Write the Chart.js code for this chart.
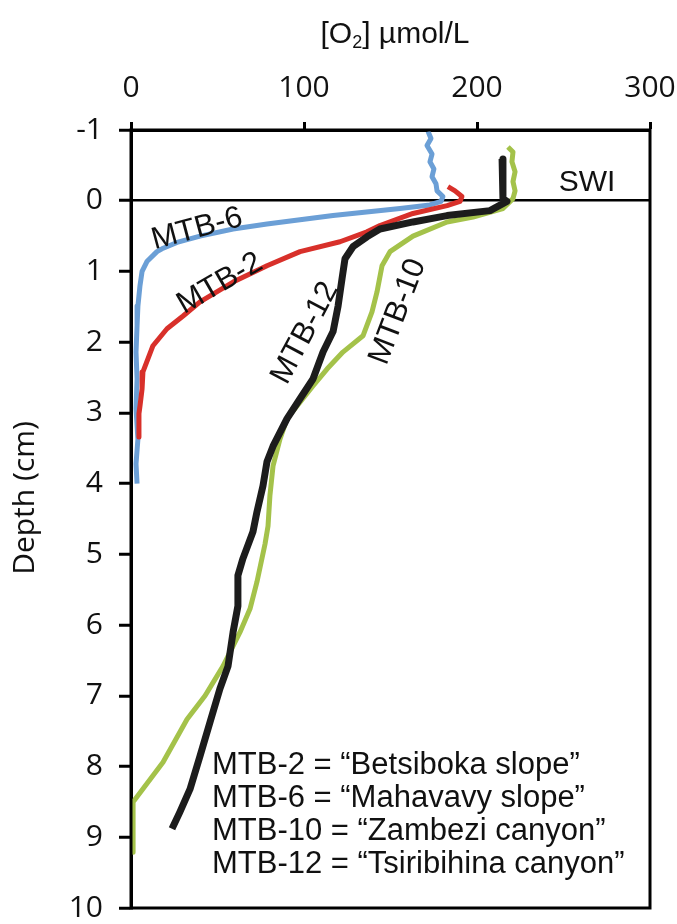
<!DOCTYPE html>
<html>
<head>
<meta charset="utf-8">
<script src="https://cdn.jsdelivr.net/npm/chart.js@4.4.1/dist/chart.umd.min.js"></script>
<style>
  html, body { margin: 0; padding: 0; background: #fff; }
  #wrap { width: 677px; height: 924px; position: relative; }
</style>
</head>
<body>
<div id="wrap"><canvas id="chart"></canvas></div>
<script>
// --- Profiles: O2 (µmol/L) against depth (cm) ---
const mtb6O2 = [171.7, 173.4, 171.1, 174.0, 172.8, 175.1, 174.0, 176.3, 176.9, 180.3, 179.2, 172.8, 155.5, 116.8, 78.6, 59.0, 39.9, 26.6, 17.9, 15.0, 9.2, 6.4, 5.2, 4.0, 3.5, 2.9, 3.5, 2.9, 4.0, 2.9, 3.5];
const mtb6Depth = [-0.98, -0.88, -0.78, -0.66, -0.55, -0.45, -0.34, -0.24, -0.14, -0.06, 0.01, 0.06, 0.11, 0.21, 0.33, 0.40, 0.50, 0.59, 0.68, 0.72, 0.86, 1.00, 1.20, 1.49, 1.77, 2.14, 2.52, 2.94, 3.37, 3.72, 4.00];

const mtb2O2 = [183.2, 187.3, 191.3, 190.2, 182.7, 163.0, 143.9, 136.4, 120.8, 97.7, 78.6, 59.0, 39.9, 30.1, 20.8, 12.7, 6.9, 6.4, 5.2, 4.6, 4.6];
const mtb2Depth = [-0.20, -0.14, -0.06, 0.01, 0.07, 0.18, 0.35, 0.44, 0.58, 0.72, 0.92, 1.15, 1.43, 1.63, 1.81, 2.05, 2.42, 2.66, 2.90, 3.01, 3.34];

const mtb10O2 = [217.9, 220.8, 220.2, 222.0, 220.8, 222.0, 220.8, 215.0, 197.7, 182.7, 163.0, 149.7, 145.1, 142.2, 139.3, 134.1, 122.5, 113.3, 105.2, 96.0, 90.2, 86.1, 82.1, 80.3, 79.2, 77.5, 72.8, 68.8, 63.0, 53.2, 42.8, 32.4, 18.5, 1.2, 1.2];
const mtb10Depth = [-0.76, -0.69, -0.55, -0.41, -0.27, -0.14, -0.03, 0.11, 0.23, 0.30, 0.50, 0.72, 0.92, 1.29, 1.57, 1.91, 2.14, 2.38, 2.62, 2.90, 3.08, 3.37, 3.75, 4.17, 4.60, 4.85, 5.39, 5.77, 6.10, 6.58, 7.00, 7.33, 7.94, 8.50, 9.21];

const mtb12O2 = [214.5, 215.0, 217.3, 207.5, 182.7, 163.0, 143.9, 136.4, 128.3, 123.7, 122.0, 119.7, 116.8, 111.0, 105.2, 97.7, 90.2, 82.1, 78.6, 76.3, 72.8, 70.5, 64.7, 61.8, 61.8, 59.0, 56.1, 51.4, 45.7, 39.9, 34.1, 28.3, 23.7];
const mtb12Depth = [-0.59, -0.03, 0.01, 0.14, 0.21, 0.30, 0.40, 0.51, 0.65, 0.82, 1.10, 1.49, 1.85, 2.14, 2.52, 2.80, 3.08, 3.47, 3.69, 4.03, 4.40, 4.68, 5.06, 5.30, 5.73, 6.10, 6.58, 6.90, 7.37, 7.85, 8.32, 8.64, 8.88];

const o2Ticks = [0, 100, 200, 300];
const depthTicks = [-1, 0, 1, 2, 3, 4, 5, 6, 7, 8, 9, 10];

const legendLines = [
  'MTB-2 = \u201CBetsiboka slope\u201D',
  'MTB-6 = \u201CMahavavy slope\u201D',
  'MTB-10 = \u201CZambezi canyon\u201D',
  'MTB-12 = \u201CTsiribihina canyon\u201D'
];

function toPoints(o2, depth) {
  return o2.map((v, i) => ({ x: v, y: depth[i] }));
}

const ARIAL = '"Liberation Sans", Arial, sans-serif';
const CALIBRI = '"Open Sans", sans-serif';

// --- Text, frame and labels drawn on top of the chart ---
const annotations = {
  id: 'annotations',
  beforeDraw(chart) {
    const ctx = chart.ctx;
    ctx.save();
    ctx.fillStyle = '#fff';
    ctx.fillRect(0, 0, chart.width, chart.height);
    ctx.restore();
  },
  afterDraw(chart) {
    const { ctx, chartArea: a, scales: { x, y } } = chart;
    ctx.save();

    // closed frame
    ctx.strokeStyle = '#000';
    ctx.lineWidth = 3;
    ctx.strokeRect(a.left, a.top, a.right - a.left, a.bottom - a.top);

    ctx.fillStyle = '#111';
    ctx.textBaseline = 'middle';

    // curve labels, anchored in data units
    const tags = [
      { t: 'MTB-6', o2: 38.2, d: 0.40, rot: -15 },
      { t: 'MTB-2', o2: 51.4, d: 1.17, rot: -30 },
      { t: 'MTB-12', o2: 100.6, d: 1.87, rot: -62 },
      { t: 'MTB-10', o2: 154.3, d: 1.57, rot: -69 }
    ];
    ctx.font = '31px ' + ARIAL;
    ctx.textAlign = 'center';
    tags.forEach(l => {
      ctx.save();
      ctx.translate(x.getPixelForValue(l.o2), y.getPixelForValue(l.d));
      ctx.rotate(l.rot * Math.PI / 180);
      ctx.fillText(l.t, 0, 0);
      ctx.restore();
    });

    ctx.font = '30px ' + ARIAL;
    ctx.fillText('SWI', x.getPixelForValue(263.6), y.getPixelForValue(-0.25));

    // legend block
    ctx.textAlign = 'left';
    ctx.font = '31px ' + ARIAL;
    const lx = x.getPixelForValue(46.8);
    legendLines.forEach((s, i) => {
      ctx.fillText(s, lx, y.getPixelForValue(7.99) + i * 33);
    });

    // top axis title with subscript
    ctx.textBaseline = 'alphabetic';
    const p1 = '[O', p3 = '] \u00B5mol/L';
    ctx.font = '18px ' + ARIAL;
    const w2 = ctx.measureText('2').width;
    ctx.font = '30px ' + ARIAL;
    const w1 = ctx.measureText(p1).width, w3 = ctx.measureText(p3).width;
    let tx = 395 - (w1 + w2 + w3) / 2;
    const base = 43;
    ctx.fillText(p1, tx, base);
    tx += w1;
    ctx.font = '18px ' + ARIAL;
    ctx.fillText('2', tx, base + 5);
    tx += w2;
    ctx.font = '30px ' + ARIAL;
    ctx.fillText(p3, tx, base);

    // left axis title
    ctx.save();
    ctx.translate(25, 498);
    ctx.rotate(-Math.PI / 2);
    ctx.textAlign = 'center';
    ctx.textBaseline = 'middle';
    ctx.font = '30px ' + CALIBRI;
    ctx.fillText('Depth (cm)', 0, 0);
    ctx.restore();

    ctx.restore();
  }
};

const line = (label, o2, depth, color, width, order) => ({
  label,
  data: toPoints(o2, depth),
  showLine: true,
  borderColor: color,
  backgroundColor: color,
  borderWidth: width,
  borderJoinStyle: 'round',
  pointRadius: 0,
  tension: 0,
  order
});

const ctxChart = document.getElementById('chart').getContext('2d');
const chart = new Chart(ctxChart, {
  type: 'scatter',
  data: {
    datasets: [
      line('MTB-12', mtb12O2, mtb12Depth, '#1c1c1c', 7, 1),
      line('MTB-10', mtb10O2, mtb10Depth, '#a4c24a', 5, 2),
      line('MTB-2', mtb2O2, mtb2Depth, '#d8302a', 5, 3),
      line('MTB-6', mtb6O2, mtb6Depth, '#6b9fd6', 5, 4)
    ]
  },
  options: {
    responsive: true,
    maintainAspectRatio: false,
    animation: false,
    layout: { padding: { top: 0, left: 0, right: 27, bottom: 16 } },
    plugins: {
      legend: { display: false },
      tooltip: { enabled: false }
    },
    scales: {
      x: {
        type: 'linear',
        position: 'top',
        min: 0,
        max: 300,
        afterBuildTicks: s => { s.ticks = o2Ticks.map(v => ({ value: v })); },
        afterFit: s => { s.height = 130; s.paddingLeft = 0; s.paddingRight = 0; },
        border: { display: true, color: '#000', width: 3 },
        grid: { drawOnChartArea: false, drawTicks: true, tickLength: 8, tickColor: '#000', tickWidth: 3 },
        ticks: {
          color: '#111',
          padding: 19,
          maxRotation: 0,
          font: { family: CALIBRI, size: 30, lineHeight: 1 }
        }
      },
      y: {
        type: 'linear',
        reverse: true,
        min: -1,
        max: 10,
        afterBuildTicks: s => { s.ticks = depthTicks.map(v => ({ value: v })); },
        afterFit: s => { s.width = 131; s.paddingTop = 0; s.paddingBottom = 0; },
        border: { display: true, color: '#000', width: 3 },
        grid: {
          color: c => (c.tick && c.tick.value === 0 ? '#000' : 'rgba(0,0,0,0)'),
          lineWidth: 2.5,
          drawTicks: true,
          tickLength: 12,
          tickColor: '#000',
          tickWidth: 3
        },
        ticks: {
          color: '#111',
          padding: 16,
          font: { family: CALIBRI, size: 30, lineHeight: 1 }
        }
      }
    }
  },
  plugins: [annotations]
});
</script>
</body>
</html>
